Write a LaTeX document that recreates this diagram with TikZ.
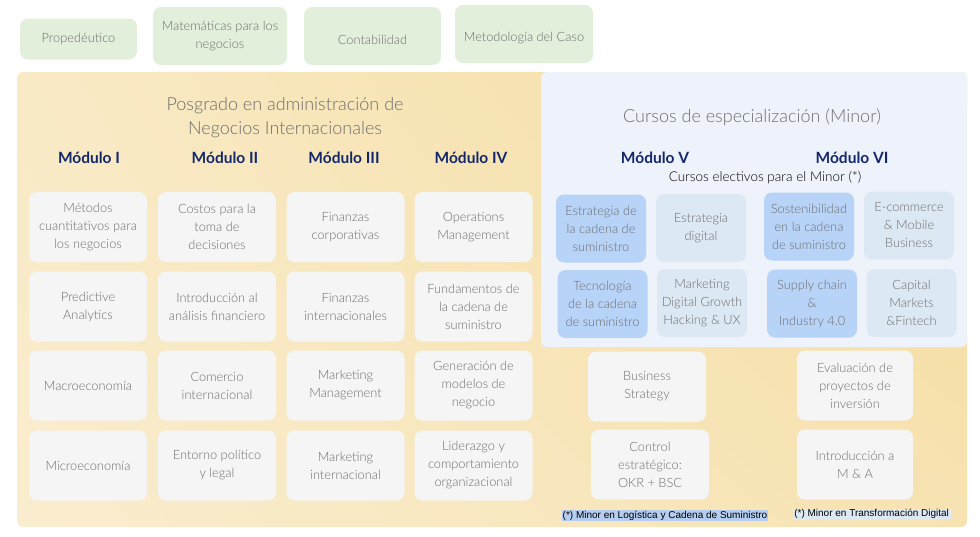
\documentclass[tikz,border=0pt]{standalone}
\usepackage{fontspec}
\usetikzlibrary{shadings}
\setmainfont{Lato Light}[BoldFont={Lato Bold}]
\newfontfamily\notefont{Liberation Sans}
\definecolor{boxgrey}{HTML}{F5F5F5}
\definecolor{txtgrey}{HTML}{6E6E6E}
\definecolor{navy}{HTML}{13286B}
\definecolor{propgreen}{HTML}{E2EFDA}
\definecolor{yellowTL}{HTML}{FAEDCF}
\definecolor{yellowBL}{HTML}{F9EAC6}
\definecolor{yellowTR}{HTML}{F7E3B2}
\definecolor{yellowBR}{HTML}{F5DC9E}
\definecolor{minorbg}{HTML}{EEF2FA}
\definecolor{minordark}{HTML}{B8D3F8}
\definecolor{minorlight}{HTML}{DDE8F5}
\definecolor{notedark}{HTML}{B4CDF0}
\definecolor{notelight}{HTML}{DDE8F5}
\tikzset{
  course/.style={rounded corners=8pt, fill=boxgrey, text=txtgrey, align=center,
    font=\fontsize{12.8}{18}\selectfont, minimum width=118pt, minimum height=70pt, inner sep=1pt},
  prop/.style={course, fill=propgreen},
  elect/.style={course, fill=minorlight, minimum width=90pt, minimum height=68pt},
  electmain/.style={elect, fill=minordark},
  module/.style={text=navy, font=\bfseries\fontsize{15.5}{18}\selectfont},
  heading/.style={text=txtgrey, align=center, font=\fontsize{18}{24}\selectfont},
  footnote/.style={font=\notefont\fontsize{10}{11}\selectfont, inner sep=0.6pt}
}
\begin{document}
\begin{tikzpicture}[x=1pt,y=-1pt]
  \useasboundingbox (0,0) rectangle (980,536);
  % panels (y axis points down, so upper/lower are swapped)
  \shade[rounded corners=6pt, lower left=yellowTL, upper left=yellowBL,
    lower right=yellowTR, upper right=yellowBR] (17,72) rectangle (967,527);
  \fill[minorbg, rounded corners=6pt] (541,72) rectangle (967,347);
  % propaedeutic courses
  \draw
    (78.5,39) node[prop, minimum width=117pt, minimum height=41pt] (p1){Propedéutico}
    (220,36) node[prop, minimum width=134pt, minimum height=58pt] (p2){Matemáticas para los\\negocios}
    (372.5,36) node[prop, minimum width=137pt, minimum height=58pt] (p3){\raisebox{-8.5pt}[0pt][0pt]{Contabilidad}}
    (524,34) node[prop, minimum width=138pt, minimum height=58pt] (p4){\raisebox{-7.5pt}[0pt][0pt]{Metodología del Caso}};
  % headings
  \draw
    (285,118) node[heading] (mba){Posgrado en administración de\\Negocios Internacionales}
    (752,117) node[heading] (minor){Cursos de especialización (Minor)}
    (89,158) node[module] (mod1){Módulo I}
    (225,158) node[module] (mod2){Módulo II}
    (344,158) node[module] (mod3){Módulo III}
    (471,158) node[module] (mod4){Módulo IV}
    (655,158) node[module] (mod5){Módulo V}
    (852,158) node[module] (mod6){Módulo VI}
    (765,178) node[font=\fontsize{13.5}{15}\selectfont] (elec){Cursos electivos para el Minor (*)};
  % modules I to IV
  \draw
    (88,227) node[course] (c11){Métodos\\cuantitativos para\\los negocios}
    (88,306.5) node[course] (c12){Predictive\\Analytics}
    (88,385.5) node[course] (c13){Macroeconomía}
    (88,465.5) node[course] (c14){Microeconomía}
    (217,227) node[course] (c21){Costos para la\\toma de\\decisiones}
    (217,306.5) node[course] (c22){Introducción al\\análisis financiero}
    (217,385.5) node[course] (c23){Comercio\\internacional}
    (217,465.5) node[course] (c24){Entorno político\\y legal}
    (345.5,227) node[course] (c31){Finanzas\\corporativas}
    (345.5,306.5) node[course] (c32){Finanzas\\internacionales}
    (345.5,385.5) node[course] (c33){Marketing\\Management}
    (345.5,465.5) node[course] (c34){Marketing\\internacional}
    (473.5,227) node[course] (c41){Operations\\Management}
    (473.5,306.5) node[course] (c42){Fundamentos de\\la cadena de\\suministro}
    (473.5,385.5) node[course] (c43){Generación de\\modelos de\\negocio}
    (473.5,465.5) node[course] (c44){Liderazgo y\\comportamiento\\organizacional};
  % electives
  \draw
    (601,228.5) node[electmain] (e51){Estrategia de\\la cadena de\\suministro}
    (701,228) node[elect] (e52){Estrategia\\digital}
    (602.5,304) node[electmain] (e53){Tecnología\\de la cadena\\de suministro}
    (702,303) node[elect] (e54){Marketing\\Digital Growth\\Hacking \& UX}
    (809,226.5) node[electmain] (e61){Sostenibilidad\\en la cadena\\de suministro}
    (909,225.5) node[elect] (e62){E-commerce\\\& Mobile\\Business}
    (812,303.5) node[electmain] (e63){Supply chain\\\&\\Industry 4.0}
    (911.5,303) node[elect] (e64){Capital\\Markets\\\&Fintech};
  % modules V and VI
  \draw
    (647,386.5) node[course] (c51){Business\\Strategy}
    (650,464.5) node[course] (c52){Control\\estratégico:\\OKR + BSC}
    (855,385.5) node[course, minimum width=116pt] (c61){Evaluación de\\proyectos de\\inversión}
    (855,464.5) node[course, minimum width=116pt] (c62){Introducción a\\M \& A};
  % notes
  \draw
    (665,515.5) node[footnote, fill=notedark] (n1){(*) Minor en Logística y Cadena de Suministro}
    (873,514) node[footnote, fill=notelight] (n2){(*) Minor en Transformación Digital\ \ };
\end{tikzpicture}
\end{document}
